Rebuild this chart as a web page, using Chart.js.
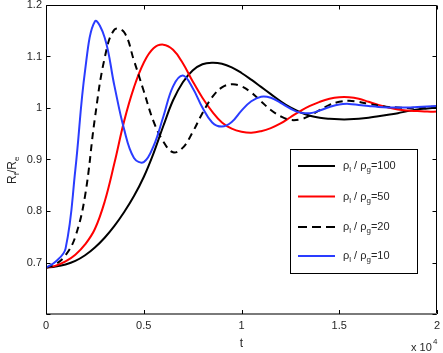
<!DOCTYPE html>
<html>
<head>
<meta charset="utf-8">
<script src="https://cdn.jsdelivr.net/npm/chart.js@4.4.1/dist/chart.umd.min.js"></script>
<style>
  html, body { margin: 0; padding: 0; background: #fff; }
</style>
</head>
<body>
<canvas id="chart" width="443" height="353"></canvas>
<script>
const tGrid = [
  0, 0.05, 0.1, 0.15, 0.2, 0.25, 0.3, 0.35, 0.4, 0.45,
  0.5, 0.55, 0.6, 0.65, 0.7, 0.75, 0.8, 0.85, 0.9, 0.95,
  1.0, 1.05, 1.1, 1.15, 1.2, 1.25, 1.3, 1.35, 1.4, 1.45,
  1.5, 1.55, 1.6, 1.65, 1.7, 1.75, 1.8, 1.85, 1.9, 1.95, 2.0,
];

const ratioLabels = ['100', '50', '20', '10'];

const r100 = [
  0.690, 0.692, 0.696, 0.703, 0.714, 0.729, 0.748, 0.771, 0.798, 0.829,
  0.866, 0.912, 0.965, 1.015, 1.050, 1.073, 1.085, 1.088, 1.086, 1.079,
  1.068, 1.055, 1.041, 1.027, 1.013, 1.001, 0.992, 0.985, 0.981, 0.979,
  0.978, 0.978, 0.979, 0.981, 0.984, 0.987, 0.990, 0.994, 0.997, 0.999, 1.001,
];

const r50 = [
  0.690, 0.694, 0.702, 0.715, 0.735, 0.765, 0.818, 0.893, 0.975, 1.040,
  1.088, 1.116, 1.123, 1.113, 1.087, 1.052, 1.020, 0.993, 0.972, 0.960,
  0.954, 0.952, 0.955, 0.961, 0.970, 0.982, 0.994, 1.004, 1.012, 1.018,
  1.021, 1.021, 1.018, 1.012, 1.006, 1.001, 0.997, 0.995, 0.994, 0.993, 0.993,
];

const r20 = [
  0.690, 0.697, 0.714, 0.750, 0.830, 0.980, 1.097, 1.152, 1.147, 1.092,
  1.033, 0.974, 0.935, 0.914, 0.923, 0.953, 0.990, 1.021, 1.040, 1.046,
  1.042, 1.030, 1.013, 0.996, 0.984, 0.977, 0.978, 0.985, 0.996, 1.006,
  1.012, 1.014, 1.012, 1.008, 1.005, 1.002, 1.001, 1.000, 1.001, 1.002, 1.003,
];

const r10 = [
  0.690, 0.702, 0.727, 0.880, 1.073, 1.168, 1.137, 1.043, 0.958, 0.903,
  0.895, 0.926, 0.983, 1.042, 1.063, 1.039, 1.001, 0.972, 0.964, 0.973,
  0.995, 1.013, 1.022, 1.020, 1.010, 0.999, 0.991, 0.990, 0.995, 1.002,
  1.007, 1.008, 1.006, 1.004, 1.002, 1.001, 1.001, 1.001, 1.002, 1.003, 1.004,
];

const xTicks = [0, 0.5, 1, 1.5, 2];
const yTicks = [0.6, 0.7, 0.8, 0.9, 1.0, 1.1, 1.2];

const FONT = '"Liberation Sans", Arial, Helvetica, sans-serif';
const TEXT = '#262626';
const BLUE = '#2a3cff';
const RED = '#ff0000';
const DASH = [7, 5];

const pts = rs => tGrid.map((t, i) => ({ x: t, y: rs[i] }));

const series = [
  { label: ratioLabels[0], data: pts(r100), color: '#000', dash: [] },
  { label: ratioLabels[1], data: pts(r50), color: RED, dash: [] },
  { label: ratioLabels[2], data: pts(r20), color: '#000', dash: DASH },
  { label: ratioLabels[3], data: pts(r10), color: BLUE, dash: [] },
];

function fmt(v) {
  return String(Math.round(v * 10) / 10);
}

// MATLAB-style box with inward ticks, axis titles and the legend
const boxPlugin = {
  id: 'box',
  afterDraw(chart) {
    const { ctx, chartArea: a, scales } = chart;
    ctx.save();
    ctx.strokeStyle = '#000';
    ctx.lineWidth = 1;
    const L = Math.round(a.left) + 0.5, R = Math.round(a.right) - 0.5;
    const T = Math.round(a.top) + 0.5, B = Math.round(a.bottom);
    ctx.beginPath();
    ctx.moveTo(L, B); ctx.lineTo(L, T); ctx.lineTo(R, T); ctx.lineTo(R, B);
    ctx.stroke();
    ctx.strokeStyle = '#7a7a7a';
    ctx.lineWidth = 2;
    ctx.beginPath();
    ctx.moveTo(L - 0.5, B); ctx.lineTo(R + 0.5, B);
    ctx.stroke();
    ctx.strokeStyle = '#000';
    ctx.lineWidth = 1;
    ctx.beginPath();
    xTicks.forEach(v => {
      const x = Math.round(scales.x.getPixelForValue(v)) + 0.5;
      ctx.moveTo(x, B); ctx.lineTo(x, B - 4);
      ctx.moveTo(x, T); ctx.lineTo(x, T + 4);
    });
    yTicks.forEach(v => {
      const y = Math.round(scales.y.getPixelForValue(v)) + 0.5;
      ctx.moveTo(L, y); ctx.lineTo(L + 4, y);
      ctx.moveTo(R, y); ctx.lineTo(R - 4, y);
    });
    ctx.stroke();

    // y axis title R_f/R_e
    ctx.fillStyle = TEXT;
    ctx.textBaseline = 'alphabetic';
    ctx.translate(16, 162);
    ctx.rotate(-Math.PI / 2);
    let x = -22;
    const parts = [['R', 12, 0], ['f', 8, 3], ['/R', 12, 0], ['e', 8, 3]];
    parts.forEach(([s, size, dy]) => {
      ctx.font = size + 'px ' + FONT;
      ctx.fillText(s, x, dy);
      x += ctx.measureText(s).width;
    });
    ctx.restore();

    // x axis title and exponent
    ctx.save();
    ctx.fillStyle = TEXT;
    ctx.font = '12px ' + FONT;
    ctx.textAlign = 'center';
    ctx.textBaseline = 'alphabetic';
    ctx.fillText('t', (a.left + a.right) / 2, 347);
    ctx.textAlign = 'left';
    ctx.font = '11px ' + FONT;
    ctx.fillText('x 10', 411, 351);
    ctx.font = '8px ' + FONT;
    ctx.fillText('4', 433, 344);
    ctx.restore();

    // legend
    ctx.save();
    ctx.fillStyle = '#fff';
    ctx.fillRect(290.5, 149.5, 127, 124);
    ctx.strokeStyle = '#000';
    ctx.lineWidth = 1;
    ctx.strokeRect(290.5, 149.5, 127, 124);
    const rows = [166, 196.5, 227, 256];
    series.forEach((s, i) => {
      const y = rows[i];
      ctx.strokeStyle = s.color;
      ctx.lineWidth = 2;
      ctx.setLineDash(s.dash.length ? [9, 5] : []);
      ctx.beginPath();
      ctx.moveTo(298, y); ctx.lineTo(335, y);
      ctx.stroke();
      ctx.setLineDash([]);
      ctx.fillStyle = TEXT;
      let tx = 343;
      const seg = [['ρ', 11, 0], ['l', 8, 3], [' / ρ', 11, 0], ['g', 8, 3], ['=' + s.label, 11, 0]];
      seg.forEach(([str, size, dy]) => {
        ctx.font = size + 'px ' + FONT;
        ctx.fillText(str, tx, y + 3 + dy);
        tx += ctx.measureText(str).width;
      });
    });
    ctx.restore();
  }
};

new Chart(document.getElementById('chart'), {
  type: 'line',
  data: {
    datasets: series.map((s, i) => ({
      label: s.label,
      data: s.data,
      borderColor: s.color,
      borderWidth: 2,
      borderDash: s.dash,
      pointRadius: 0,
      fill: false,
      tension: 0.4,
      order: series.length - i,
    })),
  },
  options: {
    responsive: false,
    animation: false,
    devicePixelRatio: 1,
    layout: { padding: { top: 5, right: 6, left: 0, bottom: 0 } },
    plugins: {
      legend: { display: false },
      tooltip: { enabled: false },
    },
    scales: {
      x: {
        type: 'linear',
        min: 0,
        max: 2,
        afterBuildTicks: scale => { scale.ticks = xTicks.map(v => ({ value: v })); },
        afterFit: scale => {
          scale.height = 39;
          scale.paddingLeft = 0;
          scale.paddingRight = 0;
        },
        ticks: {
          color: TEXT,
          font: { size: 11, family: FONT },
          padding: 5,
          maxRotation: 0,
          callback: v => fmt(v),
        },
        grid: { display: false, drawTicks: false },
        border: { display: false },
      },
      y: {
        min: 0.6,
        max: 1.2,
        afterBuildTicks: scale => { scale.ticks = yTicks.map(v => ({ value: v })); },
        afterFit: scale => {
          scale.width = 46;
          scale.paddingTop = 0;
          scale.paddingBottom = 0;
        },
        ticks: {
          color: TEXT,
          font: { size: 11, family: FONT },
          padding: 4,
          callback: v => (Math.abs(v - 0.6) < 1e-6 ? '' : fmt(v)),
        },
        grid: { display: false, drawTicks: false },
        border: { display: false },
      },
    },
  },
  plugins: [boxPlugin],
});
</script>
</body>
</html>
